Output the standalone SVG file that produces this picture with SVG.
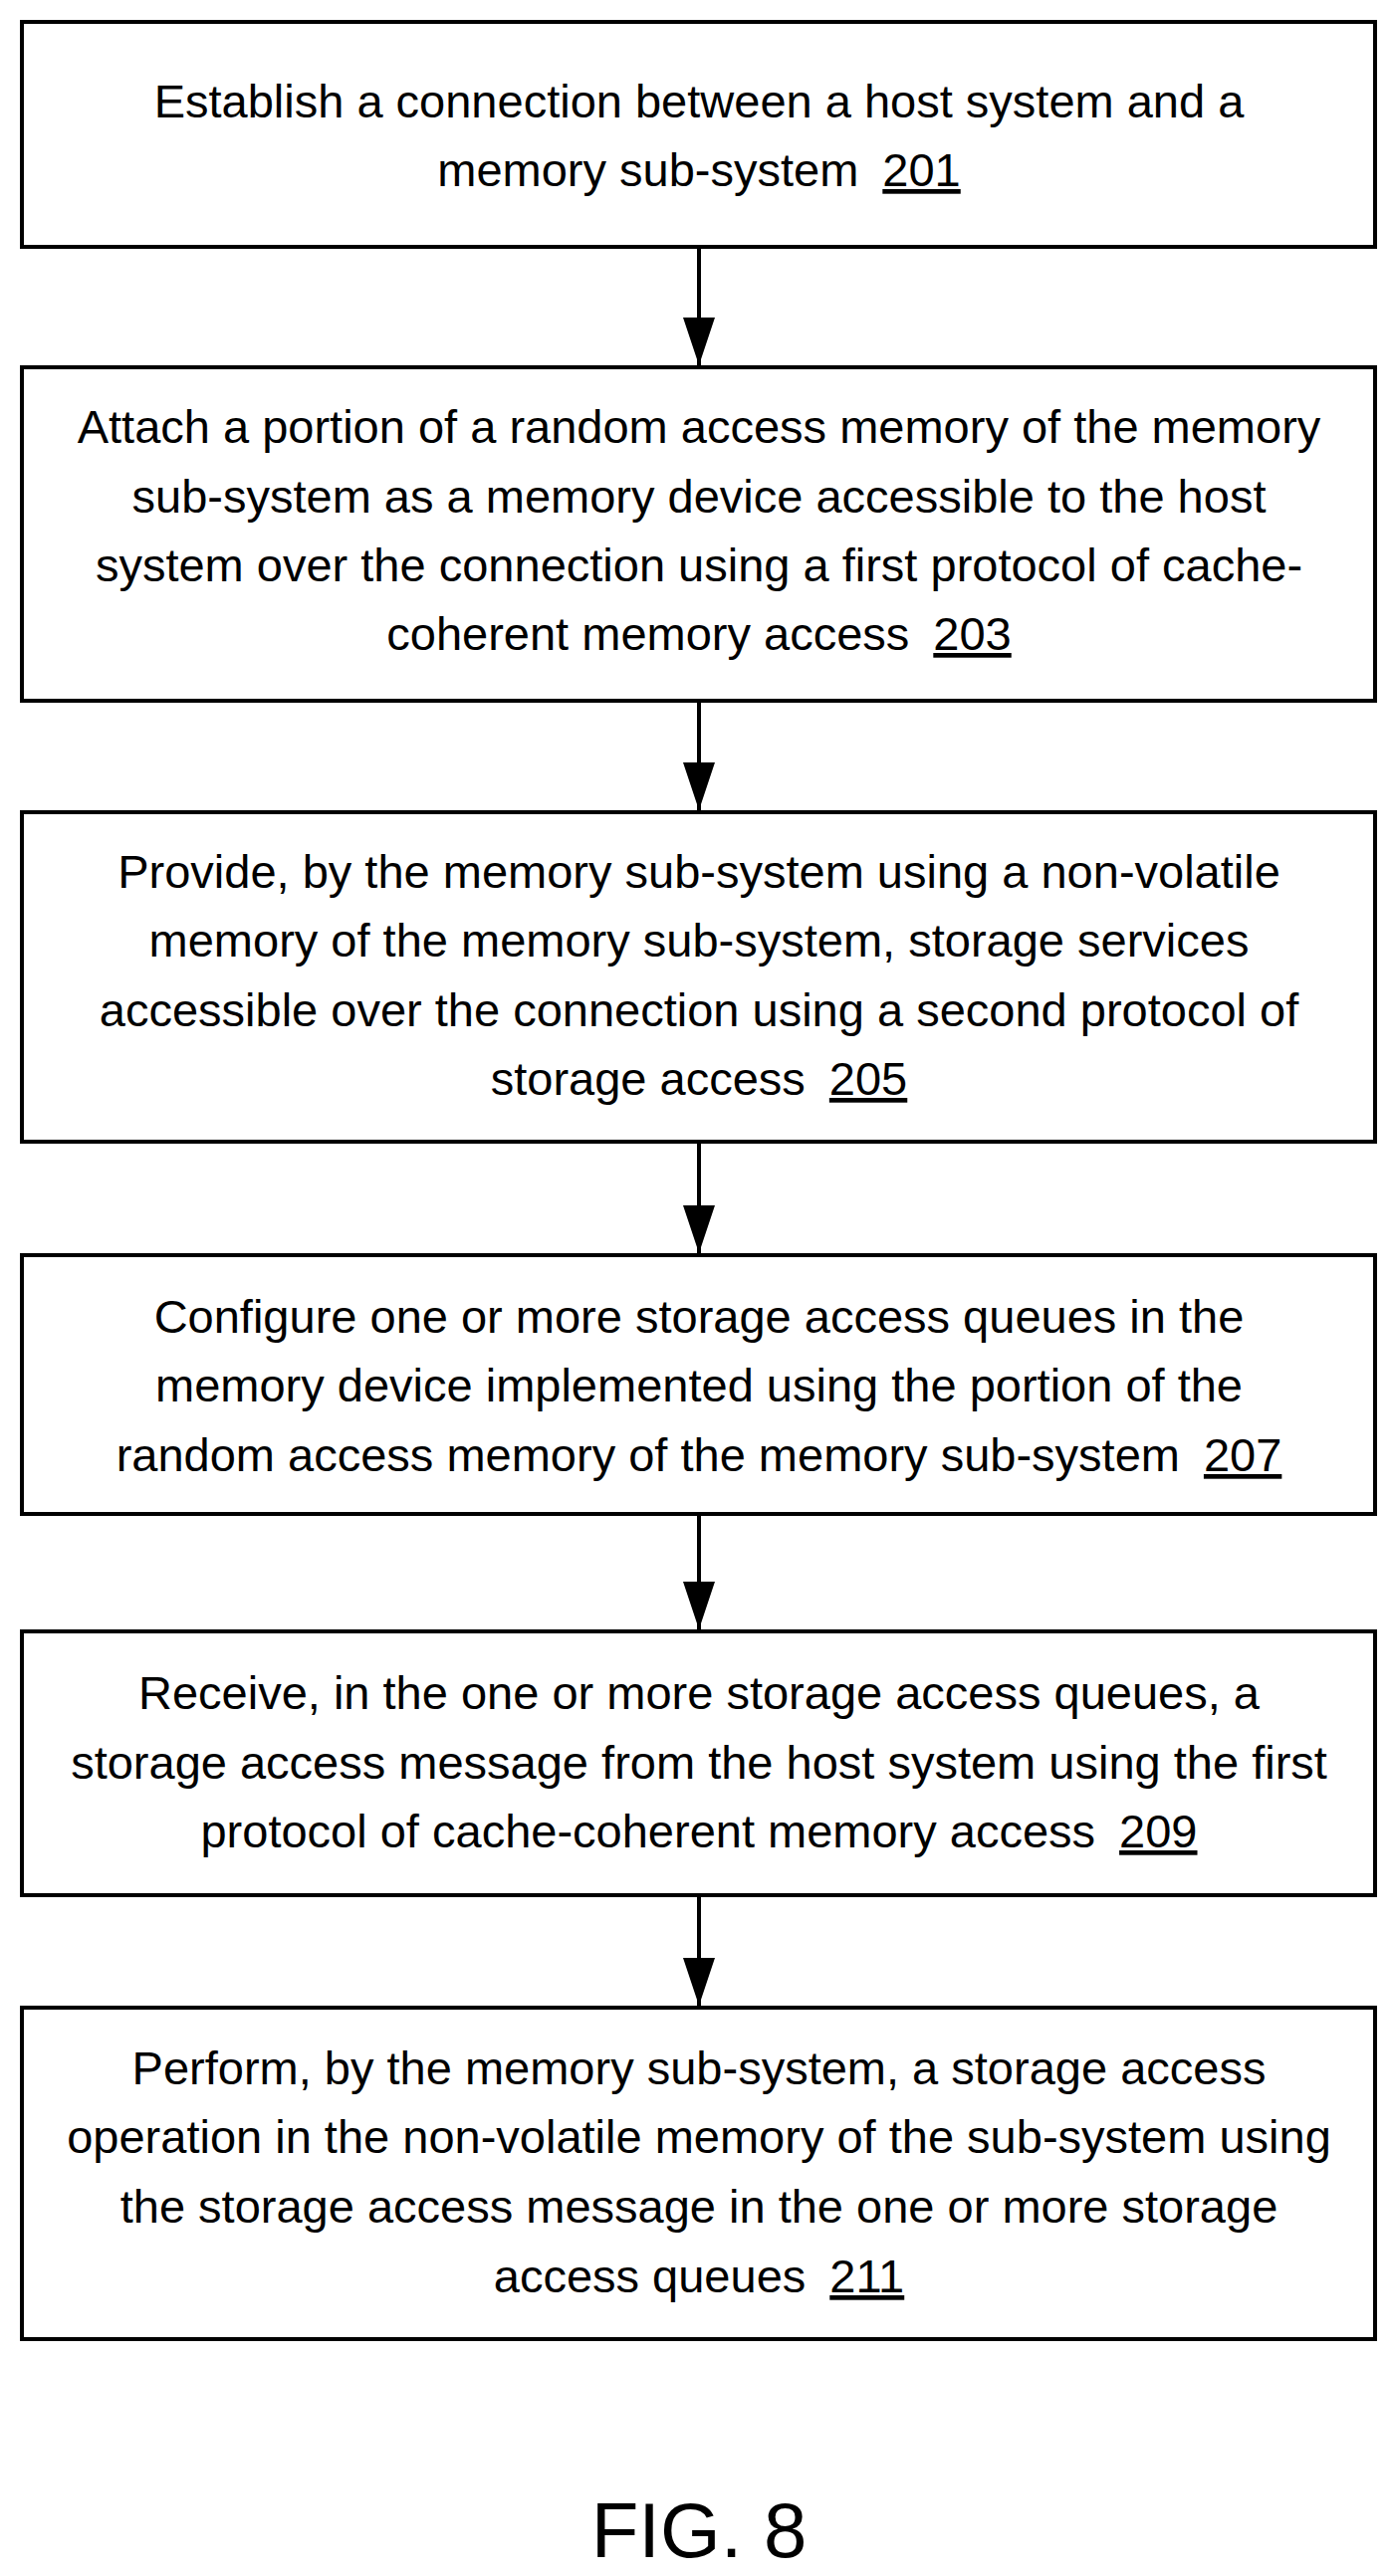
<svg xmlns="http://www.w3.org/2000/svg" width="1396" height="2588" viewBox="0 0 1396 2588">
<style>
.b{fill:#fff;stroke:#000;stroke-width:4}
text{font-family:"Liberation Sans",Arial,sans-serif;font-size:47px;text-anchor:middle;fill:#000}
.u{text-decoration:underline}
.c{stroke:#000;stroke-width:4;fill:none}
</style>
<defs><marker id="a" markerUnits="userSpaceOnUse" markerWidth="48" markerHeight="32" refX="48" refY="16" orient="auto" viewBox="0 0 48 32"><path d="M0,0 L48,16 L0,32 Z" fill="#000"/></marker></defs>
<rect width="1396" height="2588" fill="#fff"/>
<g id="connectors">
<line class="c" x1="702" y1="248" x2="702" y2="367" marker-end="url(#a)"/>
<line class="c" x1="702" y1="704" x2="702" y2="814" marker-end="url(#a)"/>
<line class="c" x1="702" y1="1147" x2="702" y2="1259" marker-end="url(#a)"/>
<line class="c" x1="702" y1="1521" x2="702" y2="1637" marker-end="url(#a)"/>
<line class="c" x1="702" y1="1904" x2="702" y2="2015" marker-end="url(#a)"/>
</g>
<g id="n201"><rect class="b" x="22" y="22" width="1359" height="226"/>
<text x="702" y="118">Establish a connection between a host system and a</text>
<text x="702" y="187">memory sub-system<tspan class="u" dx="24">201</tspan></text></g>
<g id="n203"><rect class="b" x="22" y="369" width="1359" height="335"/>
<text x="702" y="445">Attach a portion of a random access memory of the memory</text>
<text x="702" y="515">sub-system as a memory device accessible to the host</text>
<text x="702" y="584">system over the connection using a first protocol of cache-</text>
<text x="702" y="653">coherent memory access<tspan class="u" dx="24">203</tspan></text></g>
<g id="n205"><rect class="b" x="22" y="816" width="1359" height="331"/>
<text x="702" y="892">Provide, by the memory sub-system using a non-volatile</text>
<text x="702" y="961">memory of the memory sub-system, storage services</text>
<text x="702" y="1031">accessible over the connection using a second protocol of</text>
<text x="702" y="1100">storage access<tspan class="u" dx="24">205</tspan></text></g>
<g id="n207"><rect class="b" x="22" y="1261" width="1359" height="260"/>
<text x="702" y="1339">Configure one or more storage access queues in the</text>
<text x="702" y="1408">memory device implemented using the portion of the</text>
<text x="702" y="1478">random access memory of the memory sub-system<tspan class="u" dx="24">207</tspan></text></g>
<g id="n209"><rect class="b" x="22" y="1639" width="1359" height="265"/>
<text x="702" y="1717">Receive, in the one or more storage access queues, a</text>
<text x="702" y="1787">storage access message from the host system using the first</text>
<text x="702" y="1856">protocol of cache-coherent memory access<tspan class="u" dx="24">209</tspan></text></g>
<g id="n211"><rect class="b" x="22" y="2017" width="1359" height="333"/>
<text x="702" y="2094">Perform, by the memory sub-system, a storage access</text>
<text x="702" y="2163">operation in the non-volatile memory of the sub-system using</text>
<text x="702" y="2233">the storage access message in the one or more storage</text>
<text x="702" y="2303">access queues<tspan class="u" dx="24">211</tspan></text></g>
<text x="702" y="2569" style="font-size:78px">FIG. 8</text>
</svg>
